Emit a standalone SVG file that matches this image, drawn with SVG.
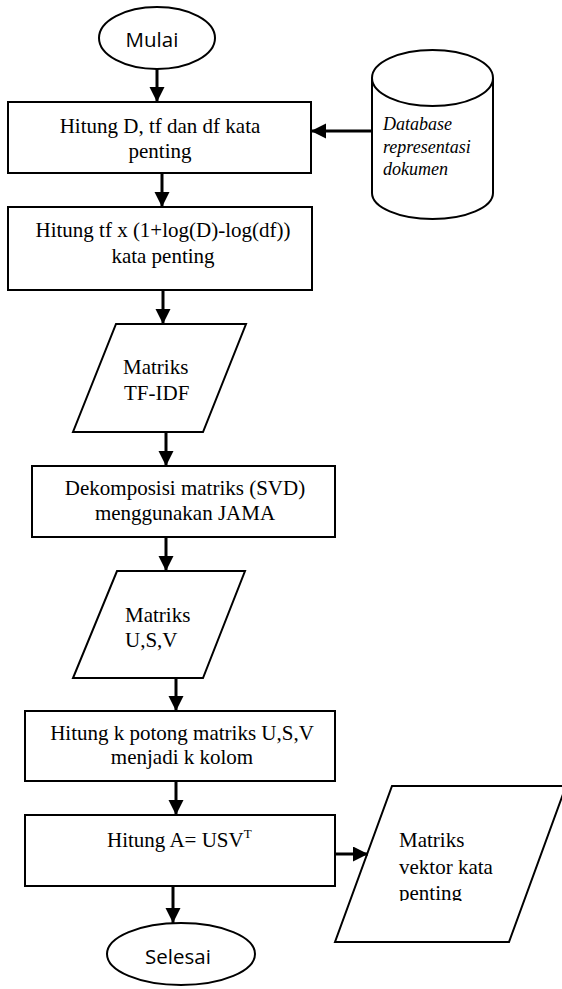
<svg xmlns="http://www.w3.org/2000/svg" width="562" height="989" viewBox="0 0 562 989">
<style>
.shape{fill:#fff;stroke:#000;stroke-width:2}
.t{font-family:"Liberation Serif","Times New Roman",serif;font-size:21px;fill:#000}
.c{text-anchor:middle}
.s{font-family:"Open Sans","Noto Sans",sans-serif;font-size:20.5px;fill:#000;text-anchor:middle}
.db{font-family:"Liberation Serif","Times New Roman",serif;font-style:italic;font-size:18px;fill:#000}
.conn line{stroke:#000;stroke-width:3;marker-end:url(#ah)}
</style>
<defs>
<marker id="ah" markerUnits="userSpaceOnUse" markerWidth="16" markerHeight="16" refX="15" refY="7.5" orient="auto">
<path d="M0,0 L15,7.5 L0,15 z" fill="#000"/>
</marker>
<clipPath id="clipP3"><rect x="330" y="780" width="240" height="121"/></clipPath>
</defs>
<rect width="562" height="989" fill="#fff"/>
<g id="mulai">
<ellipse class="shape" cx="157" cy="38" rx="58" ry="31"/>
<text class="s" x="152" y="47">Mulai</text>
</g>
<g id="hitung-d">
<rect class="shape" x="8" y="102" width="303" height="71"/>
<text class="t c" x="160" y="133">Hitung D, tf dan df kata</text>
<text class="t c" x="160" y="158">penting</text>
</g>
<g id="database">
<path class="shape" d="M372,78 L372,193 A60.5,26 0 0 0 493,193 L493,78"/>
<ellipse class="shape" cx="432.5" cy="78" rx="60.5" ry="28"/>
<text class="db" x="383" y="130">Database</text>
<text class="db" x="383" y="153">representasi</text>
<text class="db" x="383" y="175">dokumen</text>
</g>
<g id="hitung-tfidf">
<rect class="shape" x="8" y="207" width="304" height="83"/>
<text class="t c" x="163" y="237">Hitung tf x (1+log(D)-log(df))</text>
<text class="t c" x="163" y="263">kata penting</text>
</g>
<g id="matriks-tfidf">
<polygon class="shape" points="116,324 246,324 203,432 73,432"/>
<text class="t" x="123" y="374">Matriks</text>
<text class="t" x="124" y="400">TF-IDF</text>
</g>
<g id="dekomposisi">
<rect class="shape" x="32" y="466" width="303" height="71"/>
<text class="t c" x="185" y="495">Dekomposisi matriks (SVD)</text>
<text class="t c" x="185" y="520">menggunakan JAMA</text>
</g>
<g id="matriks-usv">
<polygon class="shape" points="117,571 245,571 203,678 73,678"/>
<text class="t" x="125" y="622">Matriks</text>
<text class="t" x="125" y="647">U,S,V</text>
</g>
<g id="hitung-k">
<rect class="shape" x="25" y="711" width="310" height="70"/>
<text class="t c" x="182" y="740">Hitung k potong matriks U,S,V</text>
<text class="t c" x="182" y="764">menjadi k kolom</text>
</g>
<g id="hitung-a">
<rect class="shape" x="25" y="815" width="310" height="71"/>
<text class="t" x="107" y="847">Hitung A= USV<tspan font-size="13" dy="-9">T</tspan></text>
</g>
<g id="matriks-vektor">
<polygon class="shape" points="392,786 566,786 509,942 335,942"/>
<g clip-path="url(#clipP3)">
<text class="t" x="399" y="847">Matriks</text>
<text class="t" x="399" y="874">vektor kata</text>
<text class="t" x="399" y="900">penting</text>
</g>
</g>
<g id="selesai">
<ellipse class="shape" cx="181" cy="954" rx="74" ry="31"/>
<text class="s" x="178" y="964">Selesai</text>
</g>
<g id="connectors" class="conn">
<line x1="157" y1="69" x2="157" y2="102"/>
<line x1="162" y1="174" x2="162" y2="207"/>
<line x1="163" y1="291" x2="163" y2="324"/>
<line x1="166" y1="433" x2="166" y2="466"/>
<line x1="166" y1="538" x2="166" y2="571"/>
<line x1="176" y1="679" x2="176" y2="711"/>
<line x1="176" y1="782" x2="176" y2="815"/>
<line x1="173" y1="887" x2="173" y2="923"/>
<line x1="335" y1="854" x2="368" y2="854"/>
<line x1="372" y1="131" x2="311" y2="131"/>
</g>
</svg>
